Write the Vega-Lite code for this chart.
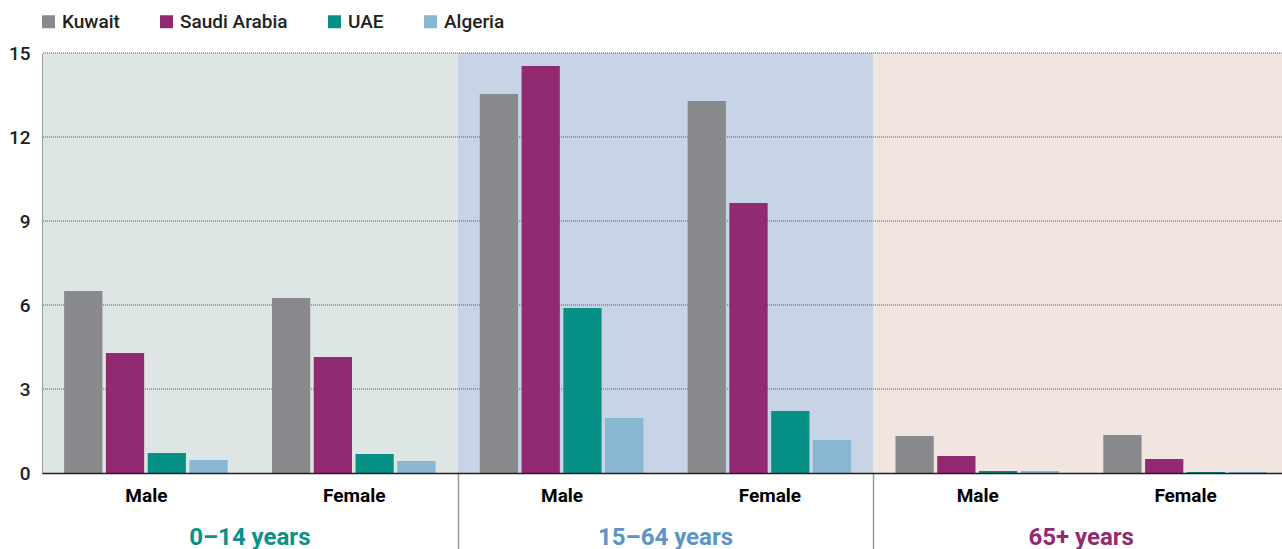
{
  "$schema": "https://vega.github.io/schema/vega-lite/v6.json",
  "autosize": {"type": "none"},
  "padding": {"left": 42, "top": 53, "right": 0, "bottom": 76},
  "width": 1240,
  "height": 420,
  "background": "white",
  "config": {"view": {"stroke": null}, "font": "Roboto"},
  "datasets": {
    "bars": [
      {"group": "0–14 years|Male", "country": "Kuwait", "value": 6.5},
      {"group": "0–14 years|Male", "country": "Saudi Arabia", "value": 4.29},
      {"group": "0–14 years|Male", "country": "UAE", "value": 0.71},
      {"group": "0–14 years|Male", "country": "Algeria", "value": 0.46},
      {"group": "0–14 years|Female", "country": "Kuwait", "value": 6.25},
      {"group": "0–14 years|Female", "country": "Saudi Arabia", "value": 4.14},
      {"group": "0–14 years|Female", "country": "UAE", "value": 0.68},
      {"group": "0–14 years|Female", "country": "Algeria", "value": 0.43},
      {"group": "15–64 years|Male", "country": "Kuwait", "value": 13.54},
      {"group": "15–64 years|Male", "country": "Saudi Arabia", "value": 14.54},
      {"group": "15–64 years|Male", "country": "UAE", "value": 5.89},
      {"group": "15–64 years|Male", "country": "Algeria", "value": 1.96},
      {"group": "15–64 years|Female", "country": "Kuwait", "value": 13.29},
      {"group": "15–64 years|Female", "country": "Saudi Arabia", "value": 9.64},
      {"group": "15–64 years|Female", "country": "UAE", "value": 2.21},
      {"group": "15–64 years|Female", "country": "Algeria", "value": 1.18},
      {"group": "65+ years|Male", "country": "Kuwait", "value": 1.32},
      {"group": "65+ years|Male", "country": "Saudi Arabia", "value": 0.61},
      {"group": "65+ years|Male", "country": "UAE", "value": 0.07},
      {"group": "65+ years|Male", "country": "Algeria", "value": 0.07},
      {"group": "65+ years|Female", "country": "Kuwait", "value": 1.36},
      {"group": "65+ years|Female", "country": "Saudi Arabia", "value": 0.5},
      {"group": "65+ years|Female", "country": "UAE", "value": 0.04},
      {"group": "65+ years|Female", "country": "Algeria", "value": 0.04}
    ],
    "panels": [
      {"ageGroup": "0–14 years"},
      {"ageGroup": "15–64 years"},
      {"ageGroup": "65+ years"}
    ],
    "grid": [{"v": 3}, {"v": 6}, {"v": 9}, {"v": 12}, {"v": 15}]
  },
  "layer": [
    {
      "data": {"name": "panels"},
      "mark": {"type": "rect"},
      "encoding": {
        "x": {
          "field": "ageGroup",
          "type": "nominal",
          "sort": null,
          "scale": {"domain": ["0–14 years", "15–64 years", "65+ years"], "range": [0, 1247], "paddingInner": 0, "paddingOuter": 0},
          "axis": {
            "orient": "bottom",
            "title": null,
            "domain": false,
            "ticks": false,
            "grid": false,
            "labelAngle": 0,
            "labelPadding": 52,
            "labelFontSize": 24,
            "labelFontWeight": "bold",
            "labelColor": {"expr": "datum.value === '0–14 years' ? '#0a9188' : datum.value === '15–64 years' ? '#5b95c5' : '#922a72'"}
          }
        },
        "color": {
          "field": "ageGroup",
          "type": "nominal",
          "scale": {"domain": ["0–14 years", "15–64 years", "65+ years"], "range": ["#dde6e4", "#c7d4e5", "#f0e5e0"]},
          "legend": null
        }
      }
    },
    {
      "data": {"name": "grid"},
      "mark": {"type": "rule", "color": "#555555", "strokeDash": [1, 1], "strokeWidth": 1},
      "encoding": {
        "y": {
          "field": "v",
          "type": "quantitative",
          "scale": {"domain": [0, 15], "nice": false},
          "axis": {
            "title": null,
            "values": [0, 3, 6, 9, 12, 15],
            "ticks": false,
            "grid": false,
            "domain": true,
            "domainDash": [1, 1],
            "domainColor": "#555555",
            "labelPadding": 12,
            "labelFontSize": 19,
            "labelFontWeight": 500,
            "labelColor": "#231f20",
            "zindex": 1
          }
        }
      }
    },
    {
      "data": {"name": "bars"},
      "mark": {"type": "bar"},
      "encoding": {
        "x": {
          "field": "group",
          "type": "nominal",
          "sort": null,
          "scale": {
            "domain": ["0–14 years|Male", "0–14 years|Female", "15–64 years|Male", "15–64 years|Female", "65+ years|Male", "65+ years|Female"],
            "range": [0, 1247],
            "paddingInner": 0,
            "paddingOuter": 0
          },
          "axis": {
            "orient": "bottom",
            "title": null,
            "labelExpr": "split(datum.label, '|')[1]",
            "labelAngle": 0,
            "tickBand": "extent",
            "tickSize": 76,
            "tickWidth": 1.5,
            "tickColor": {"condition": {"test": "datum.value === '0–14 years|Female' || datum.value === '15–64 years|Female'", "value": "#9a9a9a"}, "value": "transparent"},
            "labelPadding": -63,
            "labelFontSize": 19,
            "labelFontWeight": "bold",
            "labelColor": "#000000",
            "domainColor": "#231f20",
            "domainWidth": 1.5,
            "grid": false,
            "zindex": 1
          }
        },
        "xOffset": {
          "field": "country",
          "type": "nominal",
          "sort": null,
          "scale": {"domain": ["Kuwait", "Saudi Arabia", "UAE", "Algeria"], "paddingInner": 0.084, "paddingOuter": 0.53}
        },
        "y": {
          "field": "value",
          "type": "quantitative",
          "scale": {"domain": [0, 15], "nice": false},
          "axis": {
            "title": null,
            "values": [0, 3, 6, 9, 12, 15],
            "ticks": false,
            "grid": false,
            "domain": true,
            "domainDash": [1, 1],
            "domainColor": "#555555",
            "labelPadding": 12,
            "labelFontSize": 19,
            "labelFontWeight": 500,
            "labelColor": "#231f20",
            "zindex": 1
          }
        },
        "color": {
          "field": "country",
          "type": "nominal",
          "sort": null,
          "scale": {"domain": ["Kuwait", "Saudi Arabia", "UAE", "Algeria"], "range": ["#898a8d", "#922a72", "#079186", "#89b7d2"]},
          "legend": {
            "orient": "none",
            "legendX": -3,
            "legendY": -41,
            "direction": "horizontal",
            "title": null,
            "symbolType": "square",
            "symbolSize": 169,
            "symbolStrokeWidth": 0,
            "symbolOpacity": 1,
            "labelFontSize": 19,
            "labelFontWeight": 500,
            "labelColor": "#231f20",
            "labelOffset": 4,
            "columnPadding": 37
          }
        }
      }
    }
  ],
  "resolve": {"scale": {"x": "independent", "color": "independent"}, "axis": {"x": "independent"}}
}
